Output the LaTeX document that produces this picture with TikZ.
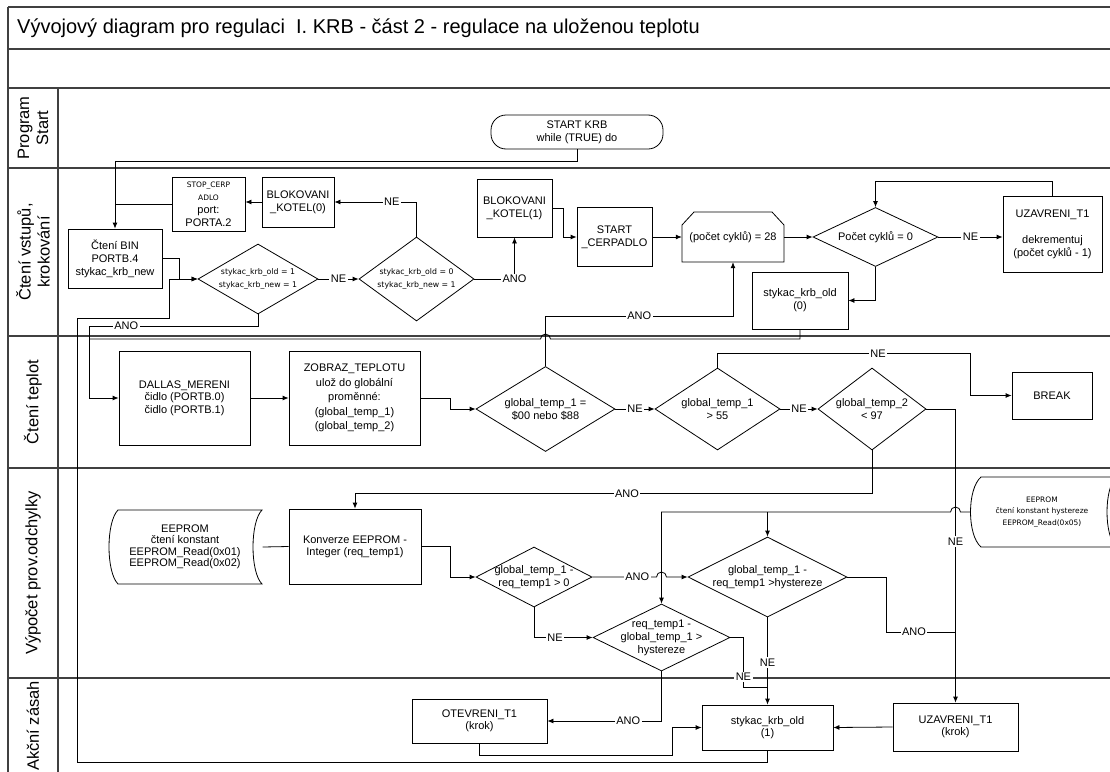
\documentclass[tikz,border=0pt]{standalone}
\usepackage{fontspec}
\setmainfont{Liberation Sans}
\newfontfamily\smallfnt{DejaVu Sans}
\usetikzlibrary{arrows.meta,shapes.geometric}

\begin{document}
\begin{tikzpicture}[x=1pt,y=-1pt,
  every node/.style={font=\fontsize{11}{13}\selectfont, align=center, inner sep=0pt},
  box/.style={draw, rectangle, line width=0.8pt},
  dia/.style={draw, diamond, line width=0.8pt},
  term/.style={draw, rectangle, rounded corners=15pt, line width=0.8pt},
  lab/.style={fill=white, inner sep=1.5pt},
  sm/.style={font=\smallfnt\fontsize{7.8}{13}\selectfont},
  tiny/.style={font=\smallfnt\fontsize{7.5}{11.5}\selectfont},
  con/.style={line width=0.8pt},
  arr/.style={con, -{Latex[length=6pt,width=5pt]}},
  lane/.style={line width=1.3pt, draw=black!75},
  lanetxt/.style={rotate=90, font=\fontsize{16.5}{19}\selectfont},
]
\useasboundingbox (0,0) rectangle (1110,771);
\clip (0,0) rectangle (1110,771);

% ---- frame and swimlanes ----
\draw[lane] (8,7) -- (1120,7);
\draw[lane] (8,7) -- (8,790);
\foreach \yy in {49,88,168,336,468,678} \draw[lane] (8,\yy) -- (1120,\yy);
\draw[lane] (58,88) -- (58,790);

\node[anchor=west, font=\fontsize{20}{23}\selectfont] (title) at (17,28)
  {Vývojový diagram pro regulaci\ \ I. KRB - část 2 - regulace na uloženou teplotu};

\node[lanetxt] (l1) at (33,128) {Program\\Start};
\node[lanetxt] (l2) at (33,252) {Čtení vstupů,\\krokování};
\node[lanetxt] (l3) at (33,402) {Čtení teplot};
\node[lanetxt] (l4) at (33,573) {Výpočet prov.odchylky};
\node[lanetxt] (l5) at (33,726) {Akční zásah};

% ---- program start ----
\node[term, minimum width=172, minimum height=34] (start) at (577,132) {START KRB\\while (TRUE) do};

% ---- reading inputs ----
\node[box, minimum width=94, minimum height=59] (bin) at (115,258.5) {Čtení BIN\\PORTB.4\\stykac\_krb\_new};
\node[box, minimum width=73, minimum height=54] (stop) at (208.5,204)
  {{\smallfnt\fontsize{7.5}{13}\selectfont STOP\_CERP}\\{\smallfnt\fontsize{7.5}{13}\selectfont ADLO}\\port:\\PORTA.2};
\node[box, minimum width=72, minimum height=50] (bk0) at (298,202) {BLOKOVANI\\\_KOTEL(0)};
\node[dia, minimum width=120, minimum height=70] (d1) at (258,279) {};
\node[sm] (d1t) at (d1) {stykac\_krb\_old = 1\\stykac\_krb\_new = 1};
\node[dia, minimum width=115, minimum height=84] (d2) at (416.5,279) {};
\node[sm] (d2t) at (d2) {stykac\_krb\_old = 0\\stykac\_krb\_new = 1};
\node[box, minimum width=75, minimum height=58] (bk1) at (514.5,208) {BLOKOVANI\\\_KOTEL(1)};
\node[box, minimum width=75, minimum height=59] (scerp) at (614.5,237) {START\\\_CERPADLO};
\draw[con] (682,262) -- (682,225) -- (694,212) -- (772,212) -- (784,225) -- (784,262) -- cycle;
\node[minimum width=102, minimum height=50] (loop) at (733,237) {(počet cyklů) = 28};
\node[dia, minimum width=125, minimum height=59] (d3) at (875.5,237) {};
\node (d3t) at (d3) {Počet cyklů = 0};
\node[box, minimum width=99, minimum height=76] (uz1) at (1052.5,234) {UZAVRENI\_T1\\[13pt]dekrementuj\\(počet cyklů - 1)};
\node[box, minimum width=96, minimum height=57] (sko0) at (800,300.5) {stykac\_krb\_old\\(0)};

% ---- reading temperatures ----
\node[box, minimum width=131, minimum height=94, font=\fontsize{11}{12.5}\selectfont] (dallas) at (184.5,398)
  {DALLAS\_MERENI\\čidlo (PORTB.0)\\čidlo (PORTB.1)};
\node[box, minimum width=131, minimum height=94, font=\fontsize{11}{14.5}\selectfont] (zob) at (354.5,398)
  {ZOBRAZ\_TEPLOTU\\ulož do globální\\proměnné:\\(global\_temp\_1)\\(global\_temp\_2)};
\node[dia, minimum width=139, minimum height=85] (d4) at (545.5,409) {};
\node (d4t) at (d4) {global\_temp\_1 =\\\$00 nebo \$88};
\node[dia, minimum width=125, minimum height=82] (d5) at (717.5,409) {};
\node (d5t) at (d5) {global\_temp\_1\\> 55};
\node[box, minimum width=80, minimum height=47] (brk) at (1052,395.5) {BREAK};
\node[dia, minimum width=108, minimum height=82] (d6) at (872,409) {};
\node (d6t) at (d6) {global\_temp\_2\\< 97};

% ---- deviation computation ----
\draw[con] (118,510) -- (262,510) .. controls (250,522) and (250,572) .. (262,584)
  -- (118,584) .. controls (106,572) and (106,522) .. (118,510) -- cycle;
\node[minimum width=155, minimum height=74, font=\fontsize{11}{11.5}\selectfont] (ee1) at (185,547)
  {EEPROM\\čtení konstant\\EEPROM\_Read(0x01)\\EEPROM\_Read(0x02)};
\node[box, minimum width=132, minimum height=75, font=\fontsize{11}{12}\selectfont] (konv) at (355,546.5)
  {Konverze EEPROM -\\Integer (req\_temp1)};
\node[dia, minimum width=116, minimum height=60] (d7) at (534,577) {};
\node (d7t) at (d7) {global\_temp\_1 -\\req\_temp1 > 0};
\node[dia, minimum width=159, minimum height=80] (d8) at (767.5,577) {};
\node (d8t) at (d8) {global\_temp\_1 -\\req\_temp1 >hystereze};
\draw[con] (981,477) -- (1116,477) .. controls (1104,489) and (1104,535) .. (1116,547)
  -- (981,547) .. controls (967,535) and (967,489) .. (981,477) -- cycle;
\node[tiny, minimum width=144, minimum height=70] (ee2) at (1042,512)
  {EEPROM\\čtení konstant hystereze\\EEPROM\_Read(0x05)};
\node[dia, minimum width=137, minimum height=67] (d9) at (661.5,637.5) {};
\node (d9t) at (d9) {req\_temp1 -\\global\_temp\_1 >\\hystereze};

% ---- actions ----
\node[box, minimum width=135, minimum height=44, font=\fontsize{11}{12}\selectfont] (ot) at (479.5,721) {OTEVRENI\_T1\\(krok)};
\node[box, minimum width=131, minimum height=45, font=\fontsize{11}{12}\selectfont] (sko1) at (767.5,727.5) {stykac\_krb\_old\\(1)};
\node[box, minimum width=125, minimum height=48, font=\fontsize{11}{12}\selectfont] (uz2) at (955.5,727) {UZAVRENI\_T1\\(krok)};

% ---- junction points ----
\coordinate (jA) at (89,326);
\coordinate (jH) at (767.5,512);
\coordinate (j9) at (767.5,687);
\coordinate (jU) at (955.5,632);
\coordinate (jO) at (672,727.5);

% ---- connectors ----
\draw[arr] (start.south) -- ++(0,12) -| (bin.north);
\draw[con] (stop.west) -- (stop.west -| bin.north);
\draw[arr] (bk0.west) -- (bk0.west -| stop.east);
\draw[arr] (d2.north) |- node[lab,pos=0.65]{NE} (bk0.east);
\draw[arr] (bin.east) -- ++(17,0) |- (d1.west);
\draw[arr] (sko1.south) -- ++(0,12) -| (77,318) -- (169,318) |- (d1.west);
\draw[arr] (d1.east) -- node[lab]{NE} (d2.west);
\draw[arr] (d1.south) |- node[lab,pos=0.89]{ANO} (jA) |- (dallas.west);
\draw[arr] (d2.east) -| node[lab,pos=0.5]{ANO} (bk1.south);
\draw[arr] (bk1.east) -- ++(11,0) |- (scerp.west);
\draw[arr] (scerp.east) -- (loop.west);
\draw[arr] (loop.east) -- (d3.west);
\draw[arr] (d3.east) -- node[lab]{NE} (d3.east -| uz1.west);
\draw[arr] (uz1.north) -- ++(0,-14) -| (d3.north);
\draw[arr] (d3.south) |- (sko0.east);
\draw[con] (sko0.south) -- (800,339) -- (550.5,339) arc[start angle=0, end angle=180, radius=5pt] -- (89,339);

\draw[arr] (dallas.east) -- (zob.west);
\draw[arr] (zob.east) -- ++(30,0) |- (d4.west);
\draw[arr] (d4.north) -- ++(0,-50) -- node[lab]{ANO} ++(187.5,0) -- (loop.south);
\draw[arr] (d4.east) -- node[lab]{NE} (d5.west);
\draw[arr] (d5.north) -- ++(0,-14) -- node[lab,pos=0.636]{NE} ++(252.5,0) |- (brk.west);
\draw[arr] (d5.east) -- node[lab]{NE} (d6.west);
\draw[arr] (d6.east) -| node[lab,pos=0.726]{NE} (uz2.north);
\draw[arr] (d6.south) -- ++(0,43) -- node[lab,pos=0.474]{ANO} ++(-517,0) -- (konv.north);

\draw[con] (ee1.east) -- (konv.west);
\draw[arr] (konv.east) -- ++(29,0) |- (d7.west);
\draw[arr] (d7.east) -- node[lab,pos=0.7]{ANO} (656.5,577) arc[start angle=180, end angle=0, radius=5pt] -- (d8.west);
\draw[arr] (ee2.west) -- (960.5,512) arc[start angle=0, end angle=180, radius=5pt] -- (661.5,512) -- (d9.north);
\draw[arr] (jH) -- (d8.north);
\draw[arr] (d7.south) |- node[lab,pos=0.68]{NE} (d9.west);
\draw[con] (d9.east) -- ++(13,0) |- node[lab,pos=0.4]{NE} (j9);
\draw[arr] (d8.south) -- node[lab,pos=0.52]{NE} (sko1.north);
\draw[con] (d8.east) -- ++(39,0) |- node[lab,pos=0.7]{ANO} (jU);
\draw[arr] (d9.south) |- node[lab,pos=0.646]{ANO} (ot.east);
\draw[arr] (ot.south) -- ++(0,12) -| (jO) -- (sko1.west);
\draw[arr] (uz2.west) -- (sko1.east);
\end{tikzpicture}
\end{document}
